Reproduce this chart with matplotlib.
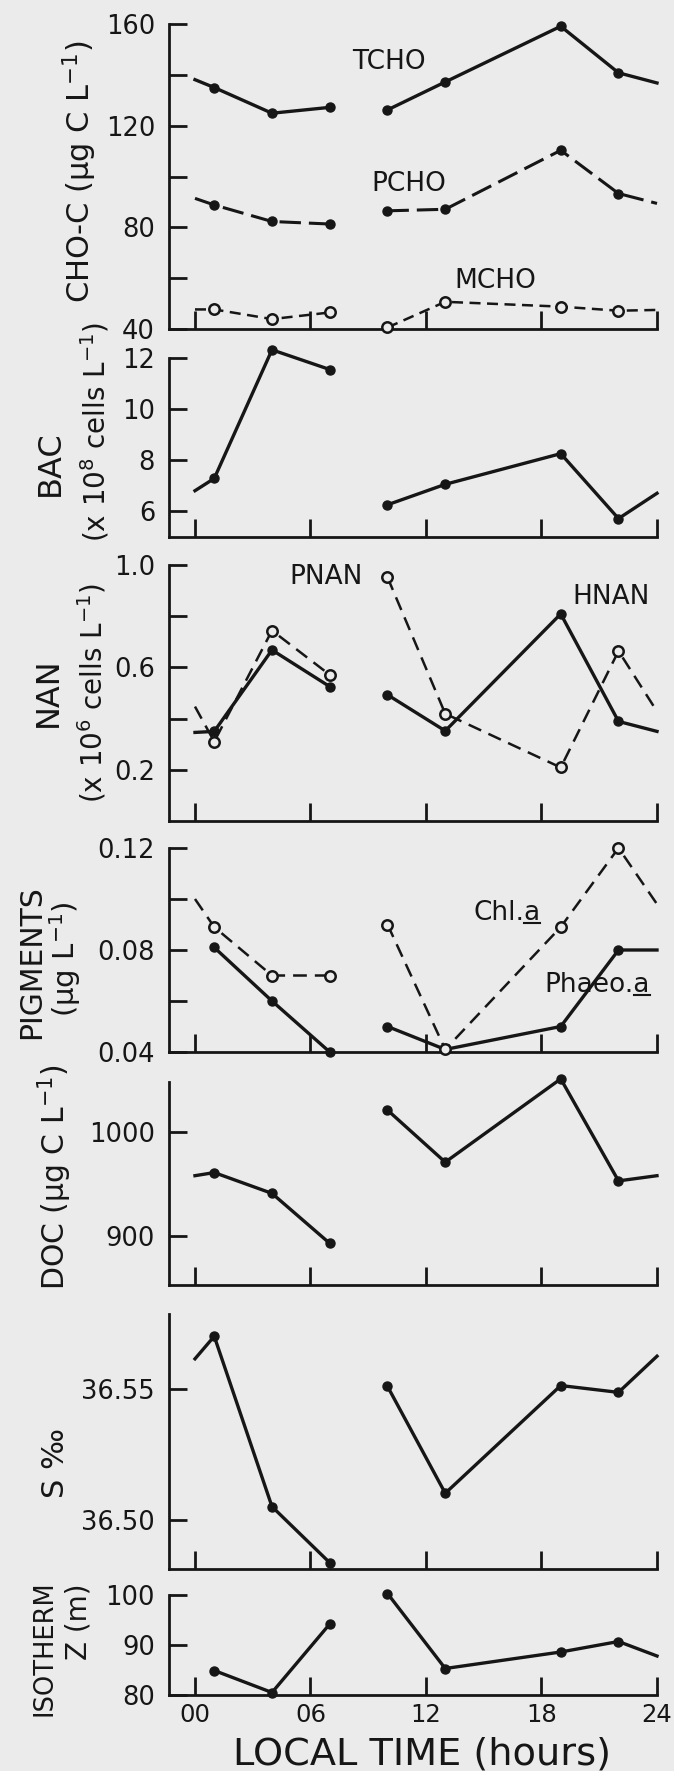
import numpy as np
from matplotlib import pyplot as plt
from matplotlib.lines import Line2D

# sampling times (h); 0 and 24 are the line ends drawn to the axis edges
hours = [0, 1, 4, 7, 10, 13, 19, 22, 24]
sampled = [1, 4, 7, 10, 13, 19, 22]

tcho = [138.1, 135.0, 124.9, 127.2, 126.2, 137.2, 159.1, 140.8, 136.8]
pcho = [91.4, 88.8, 82.3, 81.3, 86.5, 87.1, 110.3, 93.3, 89.4]
mcho = [47.7, 47.7, 43.9, 46.5, 40.6, 50.7, 48.8, 47.2, 47.5]

bac = [6.81, 7.29, 12.32, 11.55, 6.26, 7.06, 8.26, 5.72, 6.71]

hnan = [0.346, 0.35, 0.668, 0.525, 0.493, 0.352, 0.809, 0.389, 0.35]
pnan = [0.447, 0.31, 0.744, 0.571, 0.952, 0.419, 0.209, 0.664, 0.428]

chla = [0.100, 0.089, 0.070, 0.070, 0.090, 0.041, 0.089, 0.120, 0.098]
phaeo = [None, 0.081, 0.060, 0.040, 0.050, 0.041, 0.050, 0.080, 0.080]

doc = [958, 961, 941, 893, 1021, 971, 1051, 953, 958]

sal = [36.5615, 36.5701, 36.5051, 36.4837, 36.551, 36.5102, 36.5513, 36.5487, 36.5625]

iso = [None, 84.9, 80.5, 94.2, 100.3, 85.3, 88.6, 90.7, 87.8]

INK = '#161616'
BG = '#ebebeb'
W, H = 674.0, 1771.0


def rect(top, bottom):
    # axes box from pixel rows
    left = 169 / W
    width = (657 - 169) / W
    return [left, 1 - bottom / H, width, (bottom - top) / H]


def draw(ax, vals, ls='-', filled=True, lw=2.4):
    for lo, hi in ((0, 4), (4, 9)):
        seg = [(h, v) for h, v in zip(hours[lo:hi], vals[lo:hi]) if v is not None]
        xs = [p[0] for p in seg]
        ys = [p[1] for p in seg]
        ax.plot(xs, ys, linestyle=ls, color=INK, lw=lw, clip_on=False, zorder=3)
        mx = [x for x in xs if x in sampled]
        my = [y for x, y in seg if x in sampled]
        if filled:
            ax.plot(mx, my, 'o', color=INK, ms=6.5, clip_on=False, zorder=4)
        else:
            ax.plot(mx, my, 'o', mfc=BG, mec=INK, mew=1.8, ms=7.5, clip_on=False, zorder=4)


def setup(ax, ylim, yticks, ylabels, bottom=False):
    ax.set_facecolor('none')
    ax.set_xlim(-1.35, 24)
    ax.set_ylim(*ylim)
    for s in ('top', 'right'):
        ax.spines[s].set_visible(False)
    for s in ('left', 'bottom'):
        ax.spines[s].set_linewidth(2.0)
        ax.spines[s].set_color(INK)
    ax.set_xticks([0, 6, 12, 18, 24])
    ax.set_yticks(yticks)
    ax.set_yticklabels(ylabels)
    ax.tick_params(axis='both', direction='in', length=13, width=2.0, color=INK,
                   labelsize=18.5, pad=10, labelcolor=INK)
    if bottom:
        ax.set_xticklabels(['00', '06', '12', '18', '24'])
        ax.tick_params(axis='x', pad=6, labelsize=17.5)
    else:
        ax.tick_params(axis='x', labelbottom=False)


def tag(ax, x, y, s):
    return ax.text(x, y, s, fontsize=19, ha='center', va='center', color=INK)


fig = plt.figure(figsize=(6.74, 17.71), dpi=100, facecolor=BG)

# carbohydrates
ax1 = fig.add_axes(rect(24, 329))
setup(ax1, (40, 160), [40, 60, 80, 100, 120, 140, 160], ['40', '', '80', '', '120', '', '160'])
draw(ax1, tcho)
draw(ax1, pcho, ls=(0, (7, 2.6)), lw=2.2)
draw(ax1, mcho, ls=(0, (4.4, 2.6)), filled=False, lw=1.8)
tag(ax1, 10.1, 145, 'TCHO')
tag(ax1, 11.1, 97, 'PCHO')
tag(ax1, 15.6, 59, 'MCHO')

# bacteria
ax2 = fig.add_axes(rect(358, 537))
setup(ax2, (5.0, 12), [6, 8, 10, 12], ['6', '8', '10', '12'])
draw(ax2, bac)

# nanoflagellates
ax3 = fig.add_axes(rect(565, 821))
setup(ax3, (0, 1.0), [0.2, 0.4, 0.6, 0.8, 1.0], ['0.2', '', '0.6', '', '1.0'])
draw(ax3, hnan)
draw(ax3, pnan, ls=(0, (5.5, 3.2)), filled=False, lw=1.8)
tag(ax3, 6.8, 0.954, 'PNAN')
tag(ax3, 21.6, 0.876, 'HNAN')

# pigments
ax4 = fig.add_axes(rect(848, 1052))
setup(ax4, (0.04, 0.12), [0.04, 0.06, 0.08, 0.10, 0.12], ['0.04', '', '0.08', '', '0.12'])
draw(ax4, phaeo)
draw(ax4, chla, ls=(0, (5.5, 3.2)), filled=False, lw=1.8)
pig_labels = [tag(ax4, 16.2, 0.0944, 'Chl.a'), tag(ax4, 20.9, 0.0662, 'Phaeo.a')]

# dissolved organic carbon
ax5 = fig.add_axes(rect(1082, 1285))
setup(ax5, (853, 1048), [900, 1000], ['900', '1000'])
draw(ax5, doc)

# salinity
ax6 = fig.add_axes(rect(1314, 1569))
setup(ax6, (36.4813, 36.5786), [36.50, 36.55], ['36.50', '36.55'])
draw(ax6, sal)

# isotherm depth
ax7 = fig.add_axes(rect(1595, 1695))
setup(ax7, (80, 100), [80, 90, 100], ['80', '90', '100'], bottom=True)
draw(ax7, iso)


def flab(x, y, s, size=22, rot=90, va='center'):
    fig.text(x / W, 1 - y / H, s, rotation=rot, ha='center', va=va,
             fontsize=size, color=INK)


flab(422, 1765, 'LOCAL TIME (hours)', size=27.5, rot=0, va='baseline')

flab(80, 172, 'CHO-C (μg C L$^{-1}$)', size=22)
flab(50, 463, 'BAC', size=23)
flab(95, 432, '(x 10$^{8}$ cells L$^{-1}$)', size=20)
flab(48, 692, 'NAN', size=23)
flab(92, 693, '(x 10$^{6}$ cells L$^{-1}$)', size=20)
flab(32, 962, 'PIGMENTS', size=21.5)
flab(65, 959, '(μg L$^{-1}$)', size=21)
flab(55, 1177, 'DOC (μg C L$^{-1}$)', size=21.5)
flab(55, 1463, 'S ‰', size=22)
flab(45, 1648, 'ISOTHERM', size=18.5)
flab(79, 1622, 'Z (m)', size=20)

# underline the trailing "a" of the pigment names
renderer = fig.canvas.get_renderer()
probe = fig.text(0, 0, 'a', fontsize=19)
wa = probe.get_window_extent(renderer).width
probe.remove()
for t in pig_labels:
    bb = t.get_window_extent(renderer)
    yu = bb.y0 + 3
    fig.add_artist(Line2D([(bb.x1 - wa) / W, bb.x1 / W], [yu / H, yu / H],
                          color=INK, lw=1.5, transform=fig.transFigure))

plt.savefig('out.png', dpi=100, facecolor=BG)
plt.close()
